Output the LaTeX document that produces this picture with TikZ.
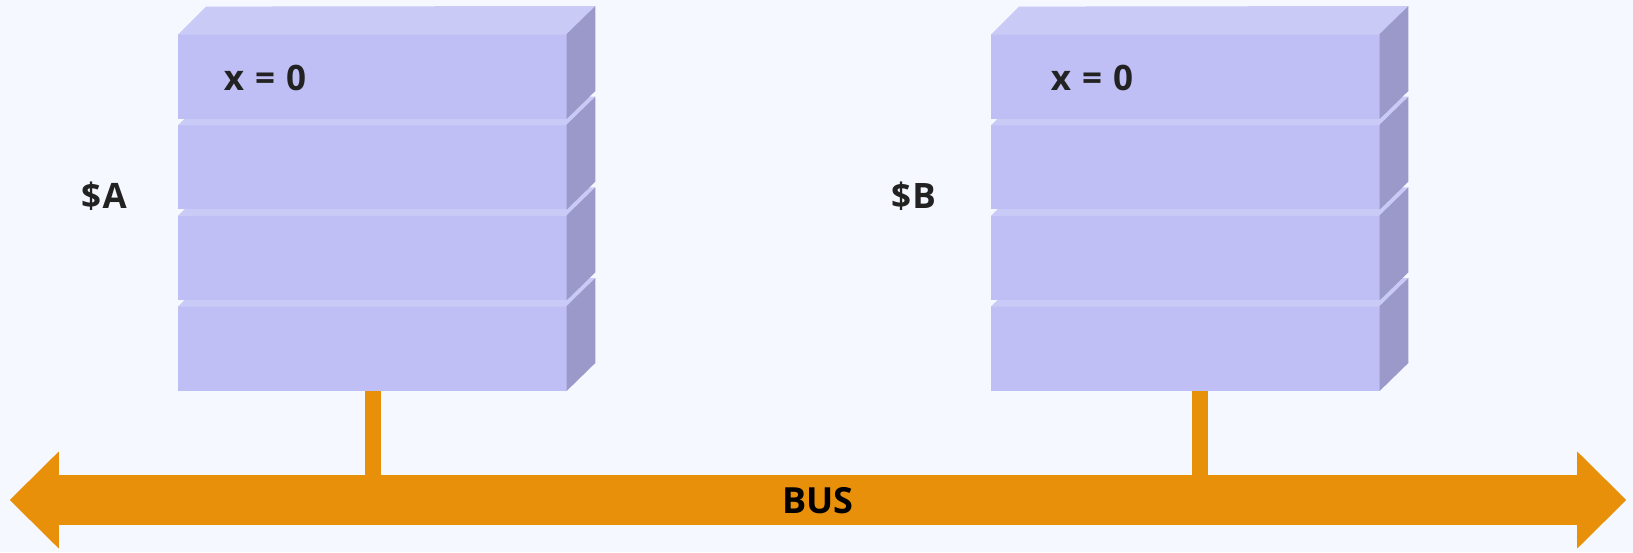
\documentclass[tikz,border=0pt]{standalone}
\usepackage{fontspec}
\setmainfont{Open Sans}
\usetikzlibrary{calc}
\definecolor{bg}{RGB}{245,248,255}
\definecolor{boxfront}{RGB}{191,190,245}
\definecolor{boxtop}{RGB}{202,202,247}
\definecolor{boxside}{RGB}{155,153,201}
\definecolor{busor}{RGB}{233,144,10}
\definecolor{textdark}{RGB}{34,34,34}
\newcommand\cuboid[3]{%
  \node[front] (#1) at (#2,#3) {};
  \fill[topface] ([yshift=-0.6pt]#1.north west) -- ++(28,-28) -- ($(#1.north east)+(28,-28)$) -- ([yshift=-0.6pt]#1.north east) -- cycle;
  \fill[sideface] ([xshift=-0.7pt]#1.north east) -- ++(28.7,-28) -- ($(#1.south east)+(28,-28)$) -- ([xshift=-0.7pt]#1.south east) -- cycle;
}
\begin{document}
\begin{tikzpicture}[x=1pt,y=-1pt,
  front/.style={fill=boxfront, draw=none, minimum width=389pt, minimum height=84.5pt, inner sep=0pt, anchor=north west},
  topface/.style={fill=boxtop},
  sideface/.style={fill=boxside},
  stem/.style={draw=busor, line width=16pt},
  lbl/.style={font=\bfseries\fontsize{35}{35}\selectfont\addfontfeature{LetterSpace=4}, text=textdark, anchor=base, inner sep=0pt},
  buslbl/.style={font=\bfseries\fontsize{36}{36}\selectfont, text=black, anchor=base, inner sep=0pt},
  busbody/.style={fill=busor, draw=none, minimum width=1518pt, minimum height=50pt, inner sep=0pt}]
\fill[bg] (0,0) rectangle (1633,552);
\useasboundingbox (0,0) rectangle (1633,552);
% stack A
\cuboid{boxA4}{178}{306}
\cuboid{boxA3}{178}{215.33}
\cuboid{boxA2}{178}{124.67}
\cuboid{boxA1}{178}{34}
% stack B
\cuboid{boxB4}{991}{306}
\cuboid{boxB3}{991}{215.33}
\cuboid{boxB2}{991}{124.67}
\cuboid{boxB1}{991}{34}
% labels
\node[lbl] (xa) at (265,90) {x\hspace{11pt}=\hspace{11pt}0};
\node[lbl] (xb) at (1092,90) {x\hspace{11pt}=\hspace{11pt}0};
\node[lbl] (la) at (104,208) {\$A};
\node[lbl] (lb) at (913.5,208) {\$B};
% bus
\node[busbody] (bus) at (818,500) {};
\fill[busor] ($(bus.west)+(0,-48.5)$) -- ($(bus.west)+(-49,0)$) -- ($(bus.west)+(0,48.5)$) -- cycle;
\fill[busor] ($(bus.east)+(0,-48.5)$) -- ($(bus.east)+(49,0)$) -- ($(bus.east)+(0,48.5)$) -- cycle;
\node[buslbl] (bustext) at (818,513) {BUS};
% stems
\draw[stem] ([xshift=0.5pt]boxA4.south) -- ([xshift=0.5pt]boxA4.south |- bus.north);
\draw[stem] ([xshift=14pt]boxB4.south) -- ([xshift=14pt]boxB4.south |- bus.north);
\end{tikzpicture}
\end{document}
